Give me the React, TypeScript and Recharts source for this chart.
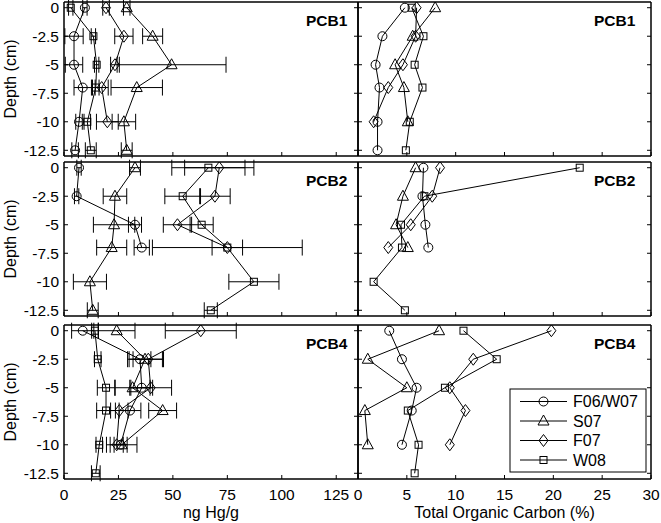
import React from "react";
import { ScatterChart, Scatter, XAxis, YAxis, ErrorBar } from "recharts";

// sampling depths (cm), shared by every panel
const DEPTH = [0, -2.5, -5, -7, -10, -12.5];
const SERIES = ["F06/W07", "S07", "F07", "W08"];
const MARKERS = ["circle", "triangle", "diamond", "square"];

const HG_TICKS = [0, 25, 50, 75, 100, 125];
const TOC_TICKS = [0, 5, 10, 15, 20, 25, 30];
const DEPTH_TICKS = [0, -2.5, -5, -7.5, -10, -12.5];
const PANEL_NAMES = ["PCB1", "PCB2", "PCB4"];

// ng Hg/g, one row per series (same order as SERIES), null = no sample
const PCB1_HG = [
  [9.6, 4.6, 4.6, 8.6, 6.9, 5.1],
  [28.8, 40.7, 49.4, 33.4, 27.5, 28.8],
  [19.3, 27.5, 23.4, 17.3, 19.9, null],
  [3.1, 13.5, 15.0, 14.6, 10.7, 12.3],
];
const PCB1_HG_ERR = [
  [1, 4.2, 4, 4, 1.5, 1.5],
  [1.5, 4.6, 25, 11.8, 5.4, 2.5],
  [1.5, 4.2, 2, 3, 5, null],
  [1, 1, 1, 1.5, 1.5, 2.5],
];
const PCB2_HG = [
  [6.9, 5.8, 32.6, 35.7, null, null],
  [32.6, 23.4, 23.0, 21.9, 11.9, 13.2],
  [71.3, 69.3, 52.1, 75.0, null, null],
  [66.3, 54.5, 63.2, 75.0, 87.2, 67.4],
];
const PCB2_HG_ERR = [
  [1, 1, 3, 3.5, null, null],
  [2.5, 5.4, 9.5, 6.9, 7.6, 2.5],
  [15.9, 7, 6.5, 34.4, null, null],
  [16.8, 8.2, 5.3, 7, 11.5, 3],
];
const PCB4_HG = [
  [8.6, 34.9, 35.7, 30.3, 26.0, null],
  [24.2, 37.2, 31.5, 45.3, 26.5, null],
  [62.8, 38.7, 39.8, 25.4, 24.2, null],
  [14.2, 15.5, 19.3, 19.3, 16.2, 14.6],
];
const PCB4_HG_ERR = [
  [5.1, 5, 5, 5, 3, null],
  [8.4, 8, 8, 6.4, 7, null],
  [16.3, 7, 9.6, 4, 3, null],
  [1.5, 1.5, 4, 4.3, 1.5, 2],
];

// total organic carbon (%)
const PCB1_TOC = [
  [4.8, 2.5, 1.8, 2.2, 2.0, 2.0],
  [7.9, 5.6, 3.8, 4.7, 5.1, null],
  [6.0, 5.9, 4.6, 3.1, 1.6, null],
  [5.5, 6.7, 5.8, 6.6, 5.3, 4.9],
];
const PCB2_TOC = [
  [6.7, 6.6, 6.9, 7.2, null, null],
  [5.9, 4.6, 3.9, 5.1, null, null],
  [8.4, 7.6, 5.4, 3.1, null, null],
  [22.7, 6.8, 4.4, 4.5, 1.6, 4.8],
];
const PCB4_TOC = [
  [3.2, 4.5, 6.0, 5.5, 4.5, null],
  [8.3, 1.0, 5.0, 0.7, 1.0, null],
  [19.8, 11.8, 9.4, 11.0, 9.4, null],
  [10.8, 14.2, 8.9, 5.1, 6.2, 5.8],
];

const HG_ROWS = [PCB1_HG, PCB2_HG, PCB4_HG];
const HG_ERR_ROWS = [PCB1_HG_ERR, PCB2_HG_ERR, PCB4_HG_ERR];
const TOC_ROWS = [PCB1_TOC, PCB2_TOC, PCB4_TOC];

const FONT = "'Liberation Sans', Arial, Helvetica, sans-serif";
const TICK_FS = 15.5;
const TICK_LEN = 4;
const LEFT_W = [60, 12];
const RIGHT_W = 12;
const TOP_H = 6;
const BOTTOM_H = [6, 6, 32];
const ROW_TOP = [2, 162, 325];
const PANEL_H = 154;
const COL_LEFT = [64, 358];
const COL_W = [294, 293];
const Y_DOMAIN: [number, number] = [-13, 0.5];
const X_DOMAINS: [number, number][] = [[0, 135], [0, 30]];
const AXIS_LINE = { stroke: "#000", strokeWidth: 1.5 };

function Marker({ kind, cx, cy }: { kind: string; cx: number; cy: number }) {
  const s = { fill: "none", stroke: "#000", strokeWidth: 1 };
  if (kind === "circle") return <circle cx={cx} cy={cy} r={4.5} {...s} />;
  if (kind === "triangle")
    return <polygon points={`${cx},${cy - 6} ${cx + 5.5},${cy + 4} ${cx - 5.5},${cy + 4}`} {...s} />;
  if (kind === "diamond")
    return <polygon points={`${cx},${cy - 6} ${cx + 4.5},${cy} ${cx},${cy + 6} ${cx - 4.5},${cy}`} {...s} />;
  return <rect x={cx - 3.5} y={cy - 3.5} width={7} height={7} {...s} />;
}

// MATLAB-style inward ticks, drawn from the axis position Recharts hands over
const bottomTick = (label: boolean) => (p: any) => (
  <g>
    <path d={`M${p.x},${p.y}V${p.y - TICK_LEN}`} stroke="#000" strokeWidth={1} />
    {label && (
      <text x={p.x} y={p.y + 21} textAnchor="middle" fontSize={TICK_FS} fontFamily={FONT} fill="#000">
        {p.payload.value}
      </text>
    )}
  </g>
);
const topTick = (p: any) => <path d={`M${p.x},${p.y}V${p.y + TICK_LEN}`} stroke="#000" strokeWidth={1} />;
const leftTick = (label: boolean) => (p: any) => (
  <g>
    <path d={`M${p.x},${p.y}H${p.x + TICK_LEN}`} stroke="#000" strokeWidth={1} />
    {label && (
      <text x={p.x - 5} y={p.y + 5.5} textAnchor="end" fontSize={TICK_FS} fontFamily={FONT} fill="#000">
        {p.payload.value}
      </text>
    )}
  </g>
);
const rightTick = (p: any) => <path d={`M${p.x},${p.y}H${p.x - TICK_LEN}`} stroke="#000" strokeWidth={1} />;

function toPoints(xs: (number | null)[], errs?: (number | null)[]) {
  return DEPTH.map((d, i) => ({ x: xs[i], y: d, e: errs ? errs[i] ?? 0 : 0 })).filter((p) => p.x != null);
}

function Panel({ row, col }: { row: number; col: number }) {
  const leftW = LEFT_W[col];
  const bottomH = BOTTOM_H[row];
  const w = COL_W[col];
  const values = col === 0 ? HG_ROWS[row] : TOC_ROWS[row];
  const errs = col === 0 ? HG_ERR_ROWS[row] : null;
  const ticks = col === 0 ? HG_TICKS : TOC_TICKS;
  return (
    <div style={{ position: "absolute", left: COL_LEFT[col] - leftW, top: ROW_TOP[row] - TOP_H }}>
      <ScatterChart
        width={leftW + w + RIGHT_W}
        height={TOP_H + PANEL_H + bottomH}
        margin={{ top: 0, right: 0, bottom: 0, left: 0 }}
      >
        <XAxis xAxisId="b" type="number" dataKey="x" domain={X_DOMAINS[col]} ticks={ticks} allowDataOverflow
          interval={0} height={bottomH} tickSize={0} tickMargin={0} tickLine={false} stroke="#000"
          axisLine={AXIS_LINE} tick={bottomTick(row === 2)} />
        <XAxis xAxisId="t" orientation="top" type="number" domain={X_DOMAINS[col]} ticks={ticks} allowDataOverflow
          interval={0} height={TOP_H} tickSize={0} tickMargin={0} tickLine={false} stroke="#000"
          axisLine={AXIS_LINE} tick={topTick} />
        <YAxis yAxisId="l" type="number" dataKey="y" domain={Y_DOMAIN} ticks={DEPTH_TICKS} allowDataOverflow
          interval={0} width={leftW} tickSize={0} tickMargin={0} tickLine={false} stroke="#000"
          axisLine={AXIS_LINE} tick={leftTick(col === 0)} />
        <YAxis yAxisId="r" orientation="right" type="number" domain={Y_DOMAIN} ticks={DEPTH_TICKS} allowDataOverflow
          interval={0} width={RIGHT_W} tickSize={0} tickMargin={0} tickLine={false} stroke="#000"
          axisLine={AXIS_LINE} tick={rightTick} />
        {SERIES.map((name, k) => (
          <Scatter
            key={name}
            name={name}
            data={toPoints(values[k], errs ? errs[k] : undefined)}
            xAxisId="b"
            yAxisId="l"
            line={{ stroke: "#000", strokeWidth: 1 }}
            lineType="joint"
            shape={(p: any) => <Marker kind={MARKERS[k]} cx={p.cx} cy={p.cy} />}
            isAnimationActive={false}
          >
            {errs && (
              <ErrorBar dataKey="e" direction="x" width={8} stroke="#000" strokeWidth={1} isAnimationActive={false} />
            )}
          </Scatter>
        ))}
      </ScatterChart>
    </div>
  );
}

function Labels() {
  const txt = { fontFamily: FONT, fill: "#000" };
  return (
    <svg width={661} height={523} style={{ position: "absolute", left: 0, top: 0, pointerEvents: "none" }}>
      {ROW_TOP.map((t, r) => (
        <g key={r}>
          <text transform={`translate(16, ${t + PANEL_H / 2}) rotate(-90)`} textAnchor="middle" fontSize={16} {...txt}>
            Depth (cm)
          </text>
          <text x={COL_LEFT[0] + 242} y={t + 23.5} fontSize={15.5} fontWeight="bold" {...txt}>{PANEL_NAMES[r]}</text>
          <text x={COL_LEFT[1] + 236} y={t + 23.5} fontSize={15.5} fontWeight="bold" {...txt}>{PANEL_NAMES[r]}</text>
        </g>
      ))}
      <text x={COL_LEFT[0] + COL_W[0] / 2} y={518} textAnchor="middle" fontSize={16} {...txt}>ng Hg/g</text>
      <text x={COL_LEFT[1] + COL_W[1] / 2} y={518} textAnchor="middle" fontSize={16} {...txt}>Total Organic Carbon (%)</text>
      {/* legend */}
      <rect x={510} y={389} width={136} height={83} fill="#fff" stroke="#000" strokeWidth={1} />
      {SERIES.map((name, k) => {
        const y = 401.5 + k * 19.5;
        return (
          <g key={name}>
            <line x1={520} y1={y} x2={567} y2={y} stroke="#000" strokeWidth={1} />
            <Marker kind={MARKERS[k]} cx={543.5} cy={y} />
            <text x={573} y={y + 5.5} fontSize={16} {...txt}>{name}</text>
          </g>
        );
      })}
    </svg>
  );
}

export default function App() {
  return (
    <div style={{ position: "absolute", left: 0, top: 0, width: 661, height: 523, background: "#fff" }}>
      {[0, 1, 2].map((r) => [0, 1].map((c) => <Panel key={`${r}-${c}`} row={r} col={c} />))}
      <Labels />
    </div>
  );
}
